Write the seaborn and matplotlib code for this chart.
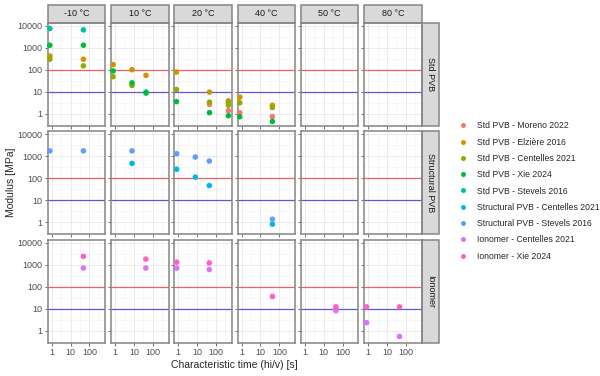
import pandas as pd
import seaborn as sns
import matplotlib.pyplot as plt
from matplotlib.patches import Rectangle
from matplotlib.lines import Line2D

# Series (legend order) and their colours
series_names = ['Std PVB - Moreno 2022', 'Std PVB - Elzière 2016', 'Std PVB - Centelles 2021',
                'Std PVB - Xie 2024', 'Std PVB - Stevels 2016', 'Structural PVB - Centelles 2021',
                'Structural PVB - Stevels 2016', 'Ionomer - Centelles 2021', 'Ionomer - Xie 2024']
series_colors = ['#F8766D', '#D39200', '#93AA00', '#00BA38', '#00C19F',
                 '#00B9E3', '#619CFF', '#DB72FB', '#FF61C3']

temperatures = ['-10 °C', '10 °C', '20 °C', '40 °C', '50 °C', '80 °C']
materials = ['Std PVB', 'Structural PVB', 'Ionomer']

# Points: series index, temperature, time [s], modulus [MPa]
pt_series = [4,
             0, 0, 0, 0,
             1, 1, 1, 1, 1, 1, 1, 1, 1, 1,
             2, 2, 2, 2, 2, 2, 2, 2, 2, 2,
             3, 3, 3, 3, 3, 3, 3, 3, 3, 3,
             4, 4,
             5, 5, 5, 5, 5,
             6, 6, 6, 6, 6, 6, 6,
             7, 7, 7, 7, 7, 7, 7, 7,
             8, 8, 8, 8, 8, 8, 8, 8]
pt_temp = ['10 °C',
           '20 °C', '20 °C', '40 °C', '40 °C',
           '-10 °C', '-10 °C', '10 °C', '10 °C', '10 °C', '20 °C', '20 °C', '20 °C', '40 °C', '40 °C',
           '-10 °C', '-10 °C', '10 °C', '10 °C', '20 °C', '20 °C', '20 °C', '20 °C', '40 °C', '40 °C',
           '-10 °C', '-10 °C', '10 °C', '10 °C', '10 °C', '20 °C', '20 °C', '20 °C', '40 °C', '40 °C',
           '-10 °C', '-10 °C',
           '10 °C', '20 °C', '20 °C', '20 °C', '40 °C',
           '-10 °C', '-10 °C', '10 °C', '20 °C', '20 °C', '20 °C', '40 °C',
           '-10 °C', '10 °C', '20 °C', '20 °C', '50 °C', '50 °C', '80 °C', '80 °C',
           '-10 °C', '10 °C', '20 °C', '20 °C', '40 °C', '50 °C', '80 °C', '80 °C']
pt_time = [44,
           45, 450, 0.8, 43,
           0.8, 48, 0.8, 8, 44, 0.8, 45, 450, 0.8, 43,
           0.8, 48, 0.8, 8, 0.8, 45, 450, 450, 0.8, 43,
           0.8, 48, 0.8, 8, 44, 0.8, 45, 450, 0.8, 43,
           0.8, 48,
           8, 0.83, 8, 44, 43,
           0.8, 48, 8, 0.83, 8, 44, 43,
           48, 43, 0.83, 44, 44, 44, 0.83, 46,
           48, 43, 0.83, 44, 43, 44, 0.83, 46]
pt_modulus = [9.6,
              2.6, 1.35, 1.1, 0.73,
              420, 300, 170, 100, 55, 78, 9.5, 3.8, 5.6, 2.4,
              300, 150, 48, 19, 12.5, 3.3, 2.9, 2.4, 3.1, 1.9,
              1300, 1300, 88, 25, 8.6, 3.5, 1.1, 0.8, 0.72, 0.44,
              7500, 6500,
              470, 255, 112, 46, 0.8,
              1750, 1750, 1750, 1300, 920, 600, 1.35,
              700, 700, 700, 600, 10, 8, 2.3, 0.54,
              2400, 1800, 1300, 1200, 37, 12, 12, 12]

df = pd.DataFrame({'series': [series_names[i] for i in pt_series],
                   'temperature': pt_temp, 'time': pt_time, 'modulus': pt_modulus})
df['material'] = df['series'].str.split(' - ').str[0]

sns.set_style('white')
plt.rcParams['font.family'] = ['Liberation Sans', 'DejaVu Sans']

fig, axes = plt.subplots(3, 6, figsize=(6, 3.76), dpi=100, sharex=True, sharey=True)
fig.subplots_adjust(left=0.0795, right=0.703, top=0.9396, bottom=0.0886, wspace=0.099, hspace=0.053)

border = '#858585'
for r, mat in enumerate(materials):
    for c, temp in enumerate(temperatures):
        ax = axes[r, c]
        ax.set_xscale('log')
        ax.set_yscale('log')
        ax.set_xlim(0.62, 690)
        ax.set_ylim(0.28, 13800)
        ax.set_xticks([1, 10, 100], ['1', '10', '100'])
        ax.set_yticks([1, 10, 100, 1000, 10000], ['1', '10', '100', '1000', '10000'])
        ax.set_xticks([10 ** 0.5, 10 ** 1.5, 10 ** 2.5], minor=True)
        ax.set_yticks([10 ** -0.5, 10 ** 0.5, 10 ** 1.5, 10 ** 2.5, 10 ** 3.5], minor=True)
        ax.grid(which='major', color='#EBEBEB', lw=0.7)
        ax.grid(which='minor', color='#F3F3F3', lw=0.5)
        ax.set_axisbelow(True)
        ax.tick_params(which='major', length=2.5, width=0.5, color='#333333',
                       labelsize=6.5, labelcolor='#4D4D4D', pad=1.5,
                       bottom=True, left=True)
        ax.tick_params(which='minor', length=0)
        for s in ax.spines.values():
            s.set_color(border)
            s.set_linewidth(1.1)
        ax.axhline(100, color='#F06060', lw=0.9, zorder=1)
        ax.axhline(10, color='#5A5AD6', lw=0.9, zorder=1)

        sub = df[(df['material'] == mat) & (df['temperature'] == temp)]
        if len(sub):
            sns.scatterplot(data=sub, x='time', y='modulus', hue='series',
                            hue_order=series_names, palette=series_colors,
                            s=16, linewidth=0, ax=ax, legend=False, zorder=3, clip_on=False)
        ax.set_xlabel('')
        ax.set_ylabel('')

        if r == 0:
            ax.add_patch(Rectangle((0, 1), 1, 17.5 / 103.3, transform=ax.transAxes,
                                   facecolor='#D9D9D9', edgecolor=border, lw=1.1, clip_on=False))
            ax.text(0.5, 1 + 8.75 / 103.3, temp, transform=ax.transAxes, ha='center',
                    va='center', fontsize=6.5, color='#1A1A1A')
        if c == 5:
            ax.add_patch(Rectangle((1, 0), 17.5 / 57.6, 1, transform=ax.transAxes,
                                   facecolor='#D9D9D9', edgecolor=border, lw=1.1, clip_on=False))
            ax.text(1 + 8.75 / 57.6, 0.5, mat, transform=ax.transAxes, ha='center',
                    va='center', rotation=-90, fontsize=6.5, color='#1A1A1A')

fig.text(0.391, 0.028, 'Characteristic time (hi/v) [s]', ha='center', va='center', fontsize=7.5)
fig.text(0.018, 0.515, 'Modulus [MPa]', ha='center', va='center', rotation=90, fontsize=7.5)

handles = [Line2D([], [], marker='o', ls='', markersize=3.6, markeredgewidth=0, color=col)
           for col in series_colors]
fig.legend(handles, series_names, loc='center left', bbox_to_anchor=(0.757, 0.492),
           frameon=False, fontsize=6.2, handlelength=1.0, handletextpad=1.2,
           labelspacing=0.85, borderpad=0)

plt.savefig('out.png', dpi=100)
